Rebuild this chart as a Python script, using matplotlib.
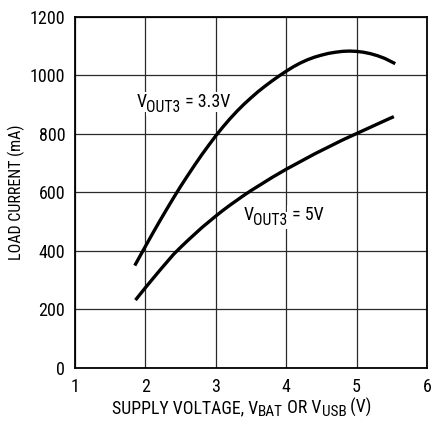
import matplotlib
matplotlib.use("Agg")
import matplotlib.pyplot as plt

FONT = 'Roboto Condensed'
plt.rcParams['font.family'] = [FONT, 'DejaVu Sans']

# V_OUT3 = 3.3V curve (supply voltage V, load current mA)
v_33 = [1.85, 2.0, 2.1, 2.2, 2.3, 2.4, 2.5, 2.6, 2.7, 2.8, 2.9, 3.0, 3.1, 3.2, 3.3, 3.4, 3.5,
        3.6, 3.7, 3.8, 3.9, 4.0, 4.1, 4.2, 4.3, 4.4, 4.5, 4.6, 4.7, 4.8, 4.9, 5.0, 5.1, 5.2,
        5.3, 5.4, 5.55]
i_33 = [350, 415, 458, 500, 541, 581, 620, 657, 693, 728, 761, 793, 823, 851, 877, 901, 923,
        944, 963, 981, 998, 1014, 1029, 1042, 1053, 1062, 1069, 1075, 1079, 1082, 1083, 1082, 1079, 1074,
        1067, 1058, 1040]
# V_OUT3 = 5V curve
v_5 = [1.86, 2.0, 2.1, 2.2, 2.3, 2.4, 2.5, 2.6, 2.7, 2.8, 2.9, 3.0, 3.1, 3.2, 3.3, 3.4, 3.5,
       3.6, 3.7, 3.8, 3.9, 4.0, 4.1, 4.2, 4.3, 4.4, 4.5, 4.6, 4.7, 4.8, 4.9, 5.0, 5.1, 5.2,
       5.3, 5.4, 5.53]
i_5 = [232, 274, 303, 332, 360, 388, 412, 435, 457, 479, 499, 519, 538, 556, 573, 590, 606,
       621, 636, 651, 665, 679, 692, 705, 718, 731, 743, 755, 767, 779, 790, 801, 812, 823,
       834, 845, 859]

x_ticks = [1, 2, 3, 4, 5, 6]
y_ticks = [0, 200, 400, 600, 800, 1000, 1200]

label_33 = [('V', 0), ('OUT3', 1), (' = 3.3V', 0)]
label_5 = [('V', 0), ('OUT3', 1), (' = 5V', 0)]
xlabel_parts = [('SUPPLY VOLTAGE, V', 0), ('BAT', 1), (' OR V', 0), ('USB', 1), (' (V)', 0)]
ylabel_text = 'LOAD CURRENT (mA)'

fig = plt.figure(figsize=(4.33, 4.21), dpi=100)
ax = fig.add_axes([0.173, 0.126, 0.813, 0.834])

ax.plot(v_33, i_33, color='black', lw=2.4, solid_capstyle='butt', solid_joinstyle='round', zorder=3)
ax.plot(v_5, i_5, color='black', lw=2.4, solid_capstyle='butt', solid_joinstyle='round', zorder=3)

ax.set_xlim(1, 6)
ax.set_ylim(0, 1200)
ax.set_xticks(x_ticks)
ax.set_yticks(y_ticks)
ax.tick_params(length=0, labelsize=13, pad=7)
ax.grid(True, color='#2a2a2a', lw=0.9)
ax.set_axisbelow(True)
for s in ax.spines.values():
    s.set_linewidth(1.3)

ax.set_ylabel(ylabel_text, fontsize=11.5, labelpad=3)


def compose(parts, x, y, coords, size, sub_size, sub_drop, bbox=None, zorder=2):
    prev = None
    for txt, is_sub in parts:
        fs = sub_size if is_sub else size
        dy = -sub_drop if is_sub else 0
        if prev is None:
            prev = ax.annotate(txt, xy=(x, y), xycoords=coords, xytext=(0, dy),
                               textcoords='offset points', fontsize=fs, ha='left',
                               va='baseline', bbox=bbox, zorder=zorder, annotation_clip=False)
        else:
            prev = ax.annotate(txt, xy=(1, y), xycoords=(prev, coords), xytext=(0, dy),
                               textcoords='offset points', fontsize=fs, ha='left',
                               va='baseline', bbox=bbox, zorder=zorder, annotation_clip=False)
    return prev


box = dict(facecolor='white', edgecolor='none', pad=0.6)
compose(label_33, 1.87, 892, 'data', 13, 11.3, 3.5, bbox=box)
compose(label_5, 3.39, 505, 'data', 13, 11.3, 3.5, bbox=box)
compose(xlabel_parts, 112 / 433, 1 - 413 / 421, 'figure fraction', 12.8, 11, 2.5)

fig.savefig('out.png', dpi=100)
